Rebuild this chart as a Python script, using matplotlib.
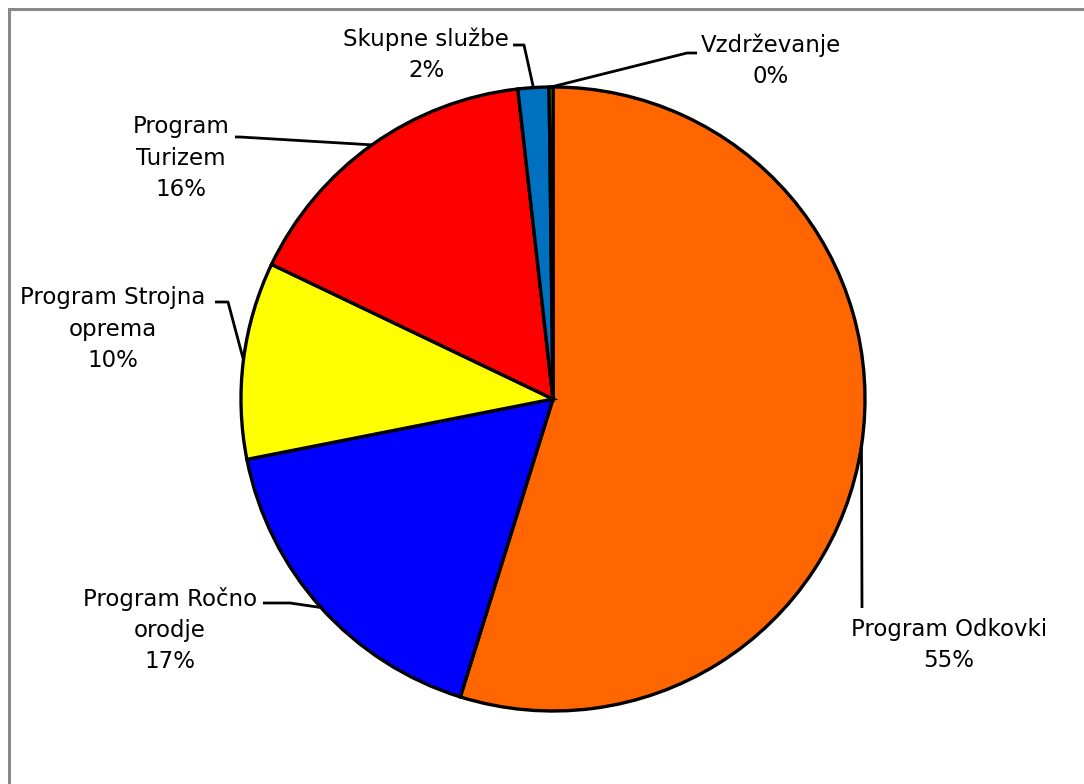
import matplotlib
matplotlib.use("Agg")
import matplotlib.pyplot as plt
import numpy as np
from matplotlib.patches import Rectangle

categories = ["Program Odkovki", "Program Ročno\norodje", "Program Strojna\noprema",
              "Program\nTurizem", "Skupne službe", "Vzdrževanje"]
values = [54.8, 17.1, 10.2, 16.1, 1.6, 0.2]
colors = ["#FF6600", "#0000FF", "#FFFF00", "#FF0000", "#0070C0", "#99CC00"]

W, H = 1084, 784
fig = plt.figure(figsize=(W / 100, H / 100), dpi=100)
ax = fig.add_axes([0, 0, 1, 1])

def Y(py):
    return H - py

cx, cy, R = 553, Y(399), 312
wedges, _ = ax.pie(values, colors=colors, startangle=90, counterclock=False,
                   center=(cx, cy), radius=R, frame=True,
                   wedgeprops=dict(edgecolor="black", linewidth=2.4))
ax.set_xlim(0, W)
ax.set_ylim(0, H)
ax.axis("off")

# label layout: (text center x, text center y, elbow point, end point) in pixels
layout = [
    (949, 645, (862, 608), (862, 608)),
    (170, 630, (290, 603), (263, 603)),
    (113, 329, (228, 302), (215, 302)),
    (181, 158, (240, 137), (235, 137)),
    (426, 55, (524, 45), (513, 45)),
    (771, 61, (687, 53), (697, 53)),
]

total = sum(values)
for w, cat, v, (tx, ty, elb, end) in zip(wedges, categories, values, layout):
    mid = np.deg2rad((w.theta1 + w.theta2) / 2)
    ax_x = cx + R * np.cos(mid)
    ax_y = cy + R * np.sin(mid)
    ax.plot([ax_x, elb[0], end[0]], [ax_y, Y(elb[1]), Y(end[1])],
            color="black", lw=2.0, solid_capstyle="butt", zorder=5)
    pct = f"{round(v / total * 100):.0f}%"
    ax.text(tx, Y(ty), f"{cat}\n{pct}", ha="center", va="center",
            fontsize=16.5, family="DejaVu Sans", linespacing=1.45, color="black")

frame = Rectangle((9 / W, -0.1), 1.2, (H - 9) / H + 0.1, transform=fig.transFigure,
                  fill=False, edgecolor="#888888", linewidth=2.2)
fig.patches.append(frame)

fig.savefig("out.png", dpi=100, facecolor="white")
